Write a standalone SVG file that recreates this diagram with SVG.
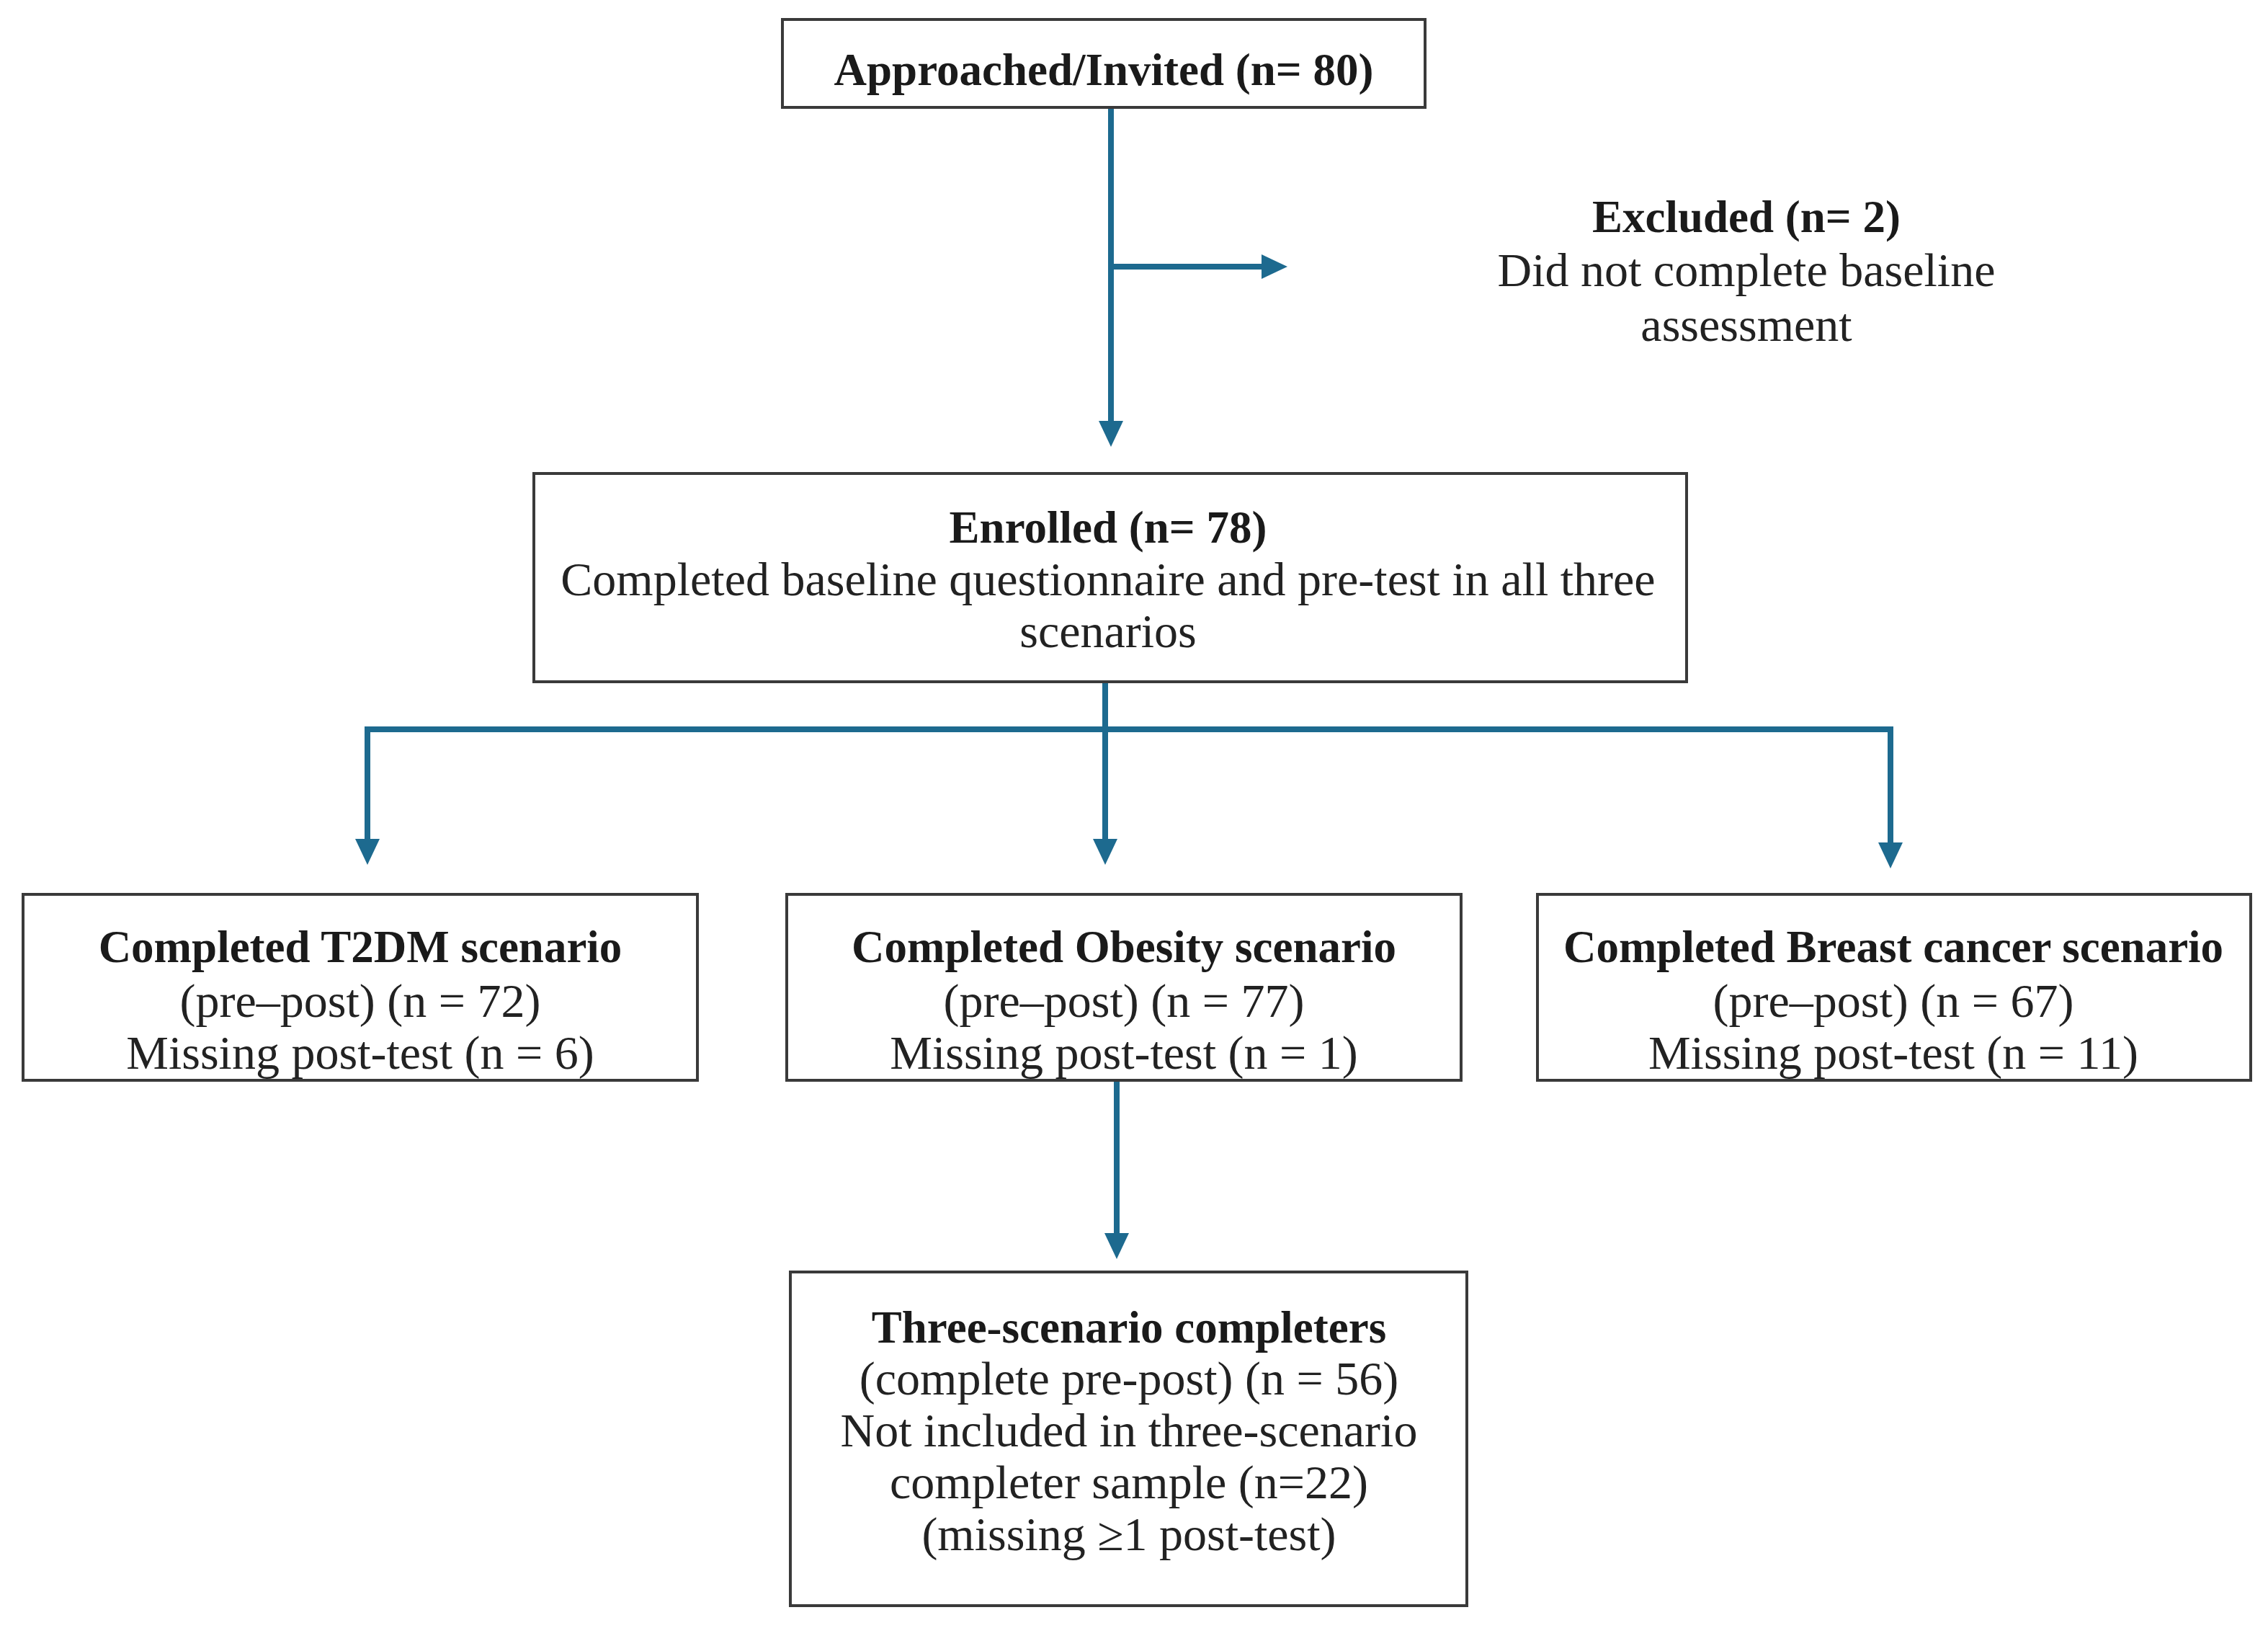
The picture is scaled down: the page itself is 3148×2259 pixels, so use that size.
<svg xmlns="http://www.w3.org/2000/svg" width="3148" height="2259" viewBox="0 0 3148 2259">
<defs>
<marker id="arr" viewBox="0 0 36 34" refX="15" refY="17" markerWidth="36" markerHeight="34" markerUnits="userSpaceOnUse" orient="auto">
<path d="M0,0 L36,17 L0,34 z" fill="#1d6a8f"/>
</marker>
<style>
.box{fill:#fff;stroke:#3a3a3a;stroke-width:4}
.t{font-family:"Liberation Serif","Times New Roman",serif;font-size:66px;fill:#222;text-anchor:middle}
.b{font-family:"Liberation Serif","Times New Roman",serif;font-size:63px;font-weight:bold;fill:#1a1a1a;text-anchor:middle}
.c{fill:none;stroke:#1d6a8f;stroke-width:8}
</style>
</defs>
<rect width="3148" height="2259" fill="#fff"/>
<g id="connectors">
<path class="c" d="M1542 149 V599" marker-end="url(#arr)"/>
<path class="c" d="M1542 370 H1766" marker-end="url(#arr)"/>
<path class="c" d="M1534 946 V1012"/>
<path class="c" d="M510 1012 H2624" stroke-linecap="square"/>
<path class="c" d="M510 1012 V1179" marker-end="url(#arr)"/>
<path class="c" d="M1534 1012 V1179" marker-end="url(#arr)"/>
<path class="c" d="M2624 1012 V1184" marker-end="url(#arr)"/>
<path class="c" d="M1550 1500 V1726" marker-end="url(#arr)"/>
</g>
<g id="approached">
<rect class="box" x="1086" y="27" width="892" height="122"/>
<text class="b" x="1532" y="118">Approached/Invited (n= 80)</text>
</g>
<g id="excluded">
<text class="b" x="2424" y="322">Excluded (n= 2)</text>
<text class="t" x="2424" y="397">Did not complete baseline</text>
<text class="t" x="2424" y="473">assessment</text>
</g>
<g id="enrolled">
<rect class="box" x="741" y="657" width="1600" height="289"/>
<text class="b" x="1538" y="753">Enrolled (n= 78)</text>
<text class="t" x="1538" y="826">Completed baseline questionnaire and pre-test in all three</text>
<text class="t" x="1538" y="898">scenarios</text>
</g>
<g id="t2dm">
<rect class="box" x="32" y="1241" width="936" height="258"/>
<text class="b" x="500" y="1335">Completed T2DM scenario</text>
<text class="t" x="500" y="1411">(pre–post) (n = 72)</text>
<text class="t" x="500" y="1483">Missing post-test (n = 6)</text>
</g>
<g id="obesity">
<rect class="box" x="1092" y="1241" width="936" height="258"/>
<text class="b" x="1560" y="1335">Completed Obesity scenario</text>
<text class="t" x="1560" y="1411">(pre–post) (n = 77)</text>
<text class="t" x="1560" y="1483">Missing post-test (n = 1)</text>
</g>
<g id="breast">
<rect class="box" x="2134" y="1241" width="990" height="258"/>
<text class="b" x="2628" y="1335">Completed Breast cancer scenario</text>
<text class="t" x="2628" y="1411">(pre–post) (n = 67)</text>
<text class="t" x="2628" y="1483">Missing post-test (n = 11)</text>
</g>
<g id="completers">
<rect class="box" x="1097" y="1765" width="939" height="463"/>
<text class="b" x="1567" y="1863">Three-scenario completers</text>
<text class="t" x="1567" y="1935">(complete pre-post) (n = 56)</text>
<text class="t" x="1567" y="2007">Not included in three-scenario</text>
<text class="t" x="1567" y="2079">completer sample (n=22)</text>
<text class="t" x="1567" y="2151">(missing ≥1 post-test)</text>
</g>
</svg>
